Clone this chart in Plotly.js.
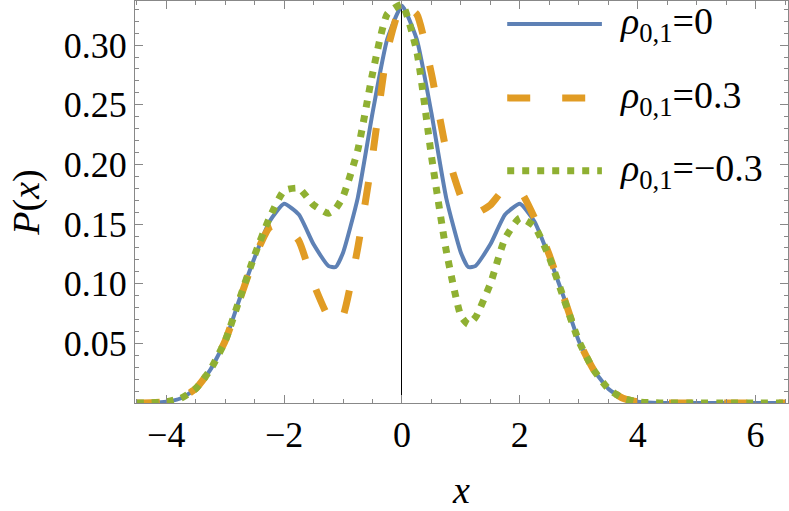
<!DOCTYPE html>
<html>
<head>
<meta charset="utf-8">
<script src="https://cdn.plot.ly/plotly-3.0.1.min.js"></script>
</head>
<body style="margin:0;background:#fff;font-family:'Liberation Serif'">
<div id="chart" style="width:789px;height:511px"></div>
<script>
// x grid and the three curves
var xGrid = [-4.5, -4.25, -4.0, -3.75, -3.5, -3.25, -3.0, -2.75, -2.5, -2.25, -2.0, -1.75, -1.5, -1.25, -1.125, -1.0, -0.75, -0.5, -0.25,
             0, 0.25, 0.5, 0.75, 1.0, 1.125, 1.25, 1.5, 1.75, 2.0, 2.25, 2.5, 2.75, 3.0, 3.25, 3.5, 3.75, 4.0, 4.25, 4.5, 5.0, 5.5, 6.0, 6.5];

var rhoZero = [0, 0.0002, 0.001, 0.004, 0.012, 0.028, 0.052, 0.088, 0.122, 0.152, 0.167, 0.158, 0.133, 0.115, 0.114, 0.126, 0.172, 0.243, 0.305,
               0.333, 0.305, 0.243, 0.172, 0.126, 0.114, 0.115, 0.133, 0.158, 0.167, 0.152, 0.122, 0.088, 0.052, 0.028, 0.012, 0.004, 0.001, 0.0002, 0, 0, 0, 0, 0];

var rhoPlus = [0, 0.0002, 0.001, 0.004, 0.012, 0.028, 0.052, 0.087, 0.122, 0.147, 0.150, 0.136, 0.100, 0.072, 0.066, 0.073, 0.130, 0.207, 0.295,
               0.334, 0.326, 0.276, 0.212, 0.173, 0.163, 0.159, 0.166, 0.180, 0.178, 0.155, 0.124, 0.088, 0.052, 0.028, 0.012, 0.004, 0.001, 0.0002, 0, 0, 0, 0, 0];

var rhoMinus = [0, 0.0002, 0.001, 0.004, 0.012, 0.028, 0.052, 0.088, 0.124, 0.155, 0.178, 0.180, 0.166, 0.159, 0.163, 0.173, 0.212, 0.276, 0.326,
                0.334, 0.295, 0.207, 0.128, 0.073, 0.066, 0.072, 0.100, 0.138, 0.155, 0.148, 0.122, 0.087, 0.052, 0.028, 0.012, 0.004, 0.001, 0.0002, 0, 0, 0, 0, 0];

var names = ['<i>ρ</i><sub>0,1</sub>=0', '<i>ρ</i><sub>0,1</sub>=0.3', '<i>ρ</i><sub>0,1</sub>=\u22120.3'];
var yTickVals = [0.05, 0.10, 0.15, 0.20, 0.25, 0.30];
var yTickLabels = ['0.05', '0.10', '0.15', '0.20', '0.25', '0.30'];

var SERIF = 'Liberation Serif';
var lineColor = ['#5E81B5', '#E19C24', '#8FB032'];
var lineDash = ['solid', '23px,32px', '7px,8px'];
var lineWidth = [4, 7, 7];

var traces = [rhoZero, rhoPlus, rhoMinus].map(function (yv, k) {
  return {
    type: 'scatter', mode: 'lines', x: xGrid, y: yv, name: names[k],
    line: {color: lineColor[k], width: lineWidth[k], dash: lineDash[k], shape: 'spline', smoothing: 0.5},
    showlegend: false
  };
});

// legend drawn by hand so the line samples are as long as in the reference
var legY = [0.943, 0.759, 0.578];
var legShapes = legY.map(function (yy, k) {
  return {type: 'line', xref: 'paper', yref: 'paper', x0: 0.570, x1: 0.715, y0: yy, y1: yy,
          line: {color: lineColor[k], width: lineWidth[k], dash: lineDash[k]}};
});
var legText = legY.map(function (yy, k) {
  return {xref: 'paper', yref: 'paper', x: 0.74, y: yy, xanchor: 'left', yanchor: 'middle',
          text: names[k], showarrow: false, font: {family: SERIF, size: 38, color: 'black'}};
});

var lay = {
  width: 789, height: 511,
  margin: {l: 135, r: 1, t: 1, b: 108},
  xaxis: {
    range: [-4.53, 6.55], tick0: 0, dtick: 2,
    ticks: 'inside', ticklen: 8, tickcolor: '#888',
    minor: {dtick: 0.5, ticklen: 4, tickcolor: '#888', ticks: 'inside'},
    showline: true, linecolor: '#888', mirror: 'ticks',
    showgrid: false, zeroline: true, zerolinecolor: 'black', zerolinewidth: 1,
    tickfont: {family: SERIF, size: 36, color: 'black'},
    title: {text: '<i>x</i>', font: {family: SERIF, size: 38, color: 'black'}, standoff: 30}
  },
  yaxis: {
    range: [0, 0.337], tickmode: 'array', tickvals: yTickVals, ticktext: yTickLabels,
    ticks: 'inside', ticklen: 8, tickcolor: '#888',
    minor: {dtick: 0.01, tick0: 0, ticklen: 4, tickcolor: '#888', ticks: 'inside'},
    showline: true, linecolor: '#888', mirror: 'ticks',
    showgrid: false, zeroline: false,
    tickfont: {family: SERIF, size: 36, color: 'black'},
    title: {text: '<i>P</i>(<i>x</i>)', font: {family: SERIF, size: 38, color: 'black'}, standoff: 12}
  },
  shapes: legShapes,
  annotations: legText
};

// make sure every svg text really uses the serif face
function forceSerif() {
  document.querySelectorAll('#chart svg text').forEach(function (t) {
    t.style.setProperty('font-family', SERIF, 'important');
  });
}

Plotly.newPlot('chart', traces, lay, {displayModeBar: false}).then(forceSerif);
</script>
</body>
</html>
